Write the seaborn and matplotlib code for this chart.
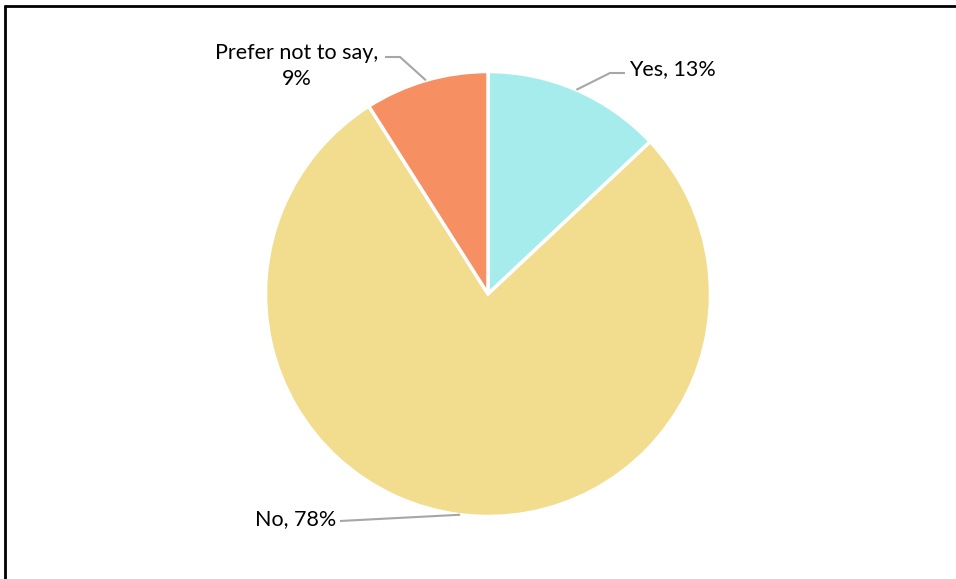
import numpy as np
import matplotlib
matplotlib.use("Agg")
import matplotlib.pyplot as plt
import seaborn as sns
from matplotlib.lines import Line2D

categories = ["Yes", "No", "Prefer not to say"]
values = [13, 78, 9]
colors = ["#A6ECEC", "#F2DC8E", "#F69063"]

sns.set_theme(style="white")
plt.rcParams['font.family'] = ['Lato', 'DejaVu Sans']

W, H = 956, 579
fig = plt.figure(figsize=(W / 100, H / 100), dpi=100)
ax = fig.add_axes([0, 0, 1, 1])

cx, cy, R = 488, H - 294, 222.5
wedges, _ = ax.pie(values, colors=colors, startangle=90, counterclock=False,
                   center=(cx, cy), radius=R, frame=True,
                   wedgeprops=dict(edgecolor='white', linewidth=2.5))
ax.set_xlim(0, W)
ax.set_ylim(0, H)
ax.set_aspect('equal')
ax.axis('off')

label_info = {
    "Yes": dict(text=(629, 69), ha='left', va='center', path=[(610, 73), (625, 73)]),
    "Prefer not to say": dict(text=(297, 66), ha='center', va='center', path=[(400, 57), (385, 57)]),
    "No": dict(text=(336, 519), ha='right', va='center', path=[(340, 521)]),
}

for w, cat, v in zip(wedges, categories, values):
    mid = np.deg2rad((w.theta1 + w.theta2) / 2)
    sx, sy = cx + R * np.cos(mid), cy + R * np.sin(mid)
    info = label_info[cat]
    xs = [sx] + [p[0] for p in info["path"]]
    ys = [sy] + [H - p[1] for p in info["path"]]
    ax.plot(xs, ys, color='#A6A6A6', lw=1.5, solid_capstyle='butt')
    if cat == "Prefer not to say":
        txt = f"{cat},\n{v}%"
    else:
        txt = f"{cat}, {v}%"
    ax.text(info["text"][0], H - info["text"][1], txt, ha=info["ha"], va=info["va"],
            fontsize=15.5, color='black', linespacing=1.35)

fig.add_artist(Line2D([5 / W, 1], [1 - 6 / H, 1 - 6 / H], color='black', lw=2, transform=fig.transFigure))
fig.add_artist(Line2D([5 / W, 5 / W], [0, 1 - 6 / H], color='black', lw=2, transform=fig.transFigure))

fig.savefig("out.png", dpi=100, facecolor='white')
